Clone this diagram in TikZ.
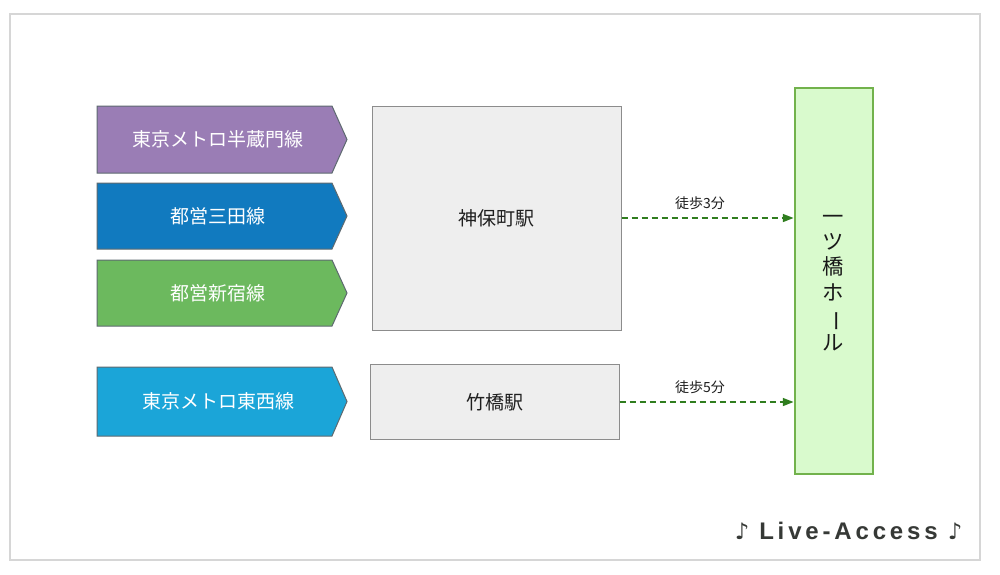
\documentclass[tikz,border=0pt]{standalone}
\usepackage{fontspec}
\setmainfont{Noto Sans CJK JP}
\newfontfamily\livefont[LetterSpace=16]{Liberation Sans}
\newfontfamily\notefont{DejaVu Sans}
\usetikzlibrary{arrows.meta}
\definecolor{framegrey}{HTML}{D6D6D6}
\definecolor{hanzomoncol}{HTML}{9A7DB5}
\definecolor{mitacol}{HTML}{117ABF}
\definecolor{shinjukucol}{HTML}{6CB95E}
\definecolor{tozaicol}{HTML}{1BA5D8}
\definecolor{lineborder}{HTML}{5E6A70}
\definecolor{stationfill}{HTML}{EEEEEE}
\definecolor{stationborder}{HTML}{8C8C8C}
\definecolor{hallfill}{HTML}{D9FACD}
\definecolor{hallborder}{HTML}{72B24C}
\definecolor{walkcol}{HTML}{2F7D1E}
\definecolor{livetext}{HTML}{363936}
\begin{document}
\begin{tikzpicture}[x=0.75pt,y=-0.75pt,
  linebody/.style={draw=lineborder, line width=0.75pt},
  linetext/.style={text=white, font=\fontsize{14.25}{17}\selectfont, inner sep=0pt},
  stationbox/.style={draw=stationborder, fill=stationfill, line width=0.75pt,
    minimum width=186.75pt, inner sep=0pt, font=\fontsize{14.25}{17}\selectfont, text=black!88},
  hallbox/.style={draw=hallborder, fill=hallfill, line width=1.5pt,
    minimum width=58.5pt, minimum height=289.5pt, inner sep=0pt,
    font=\fontsize{16}{19}\selectfont, align=center, text=black!90},
  walk/.style={draw=walkcol, line width=1.1pt, dash pattern=on 4.5pt off 3pt,
    -{Triangle[length=8pt,width=6pt]}},
  walklabel/.style={font=\fontsize{10.5}{12}\selectfont, inner sep=0pt, text=black!88},
  livestyle/.style={font=\livefont\bfseries\fontsize{18}{20}\selectfont, inner sep=0pt, anchor=base},
  notestyle/.style={font=\notefont\bfseries\fontsize{17}{20}\selectfont, inner sep=0pt, anchor=base}
]
\useasboundingbox (0,0) rectangle (1000,575);
\fill[white] (0,0) rectangle (1000,575);
\draw[framegrey, line width=1.5pt] (10,14) rectangle (980,560);

% line arrows
\fill[hanzomoncol, linebody] (97,106) -- (332,106) -- (347,139.5) -- (332,173) -- (97,173) -- cycle;
\node[linetext] (hanzomon) at (218,139.5) {東京メトロ半蔵門線};
\fill[mitacol, linebody] (97,183) -- (332,183) -- (347,216) -- (332,249) -- (97,249) -- cycle;
\node[linetext] (mita) at (218,216) {都営三田線};
\fill[shinjukucol, linebody] (97,260) -- (332,260) -- (347,293) -- (332,326) -- (97,326) -- cycle;
\node[linetext] (shinjuku) at (218,293) {都営新宿線};
\fill[tozaicol, linebody] (97,367) -- (332,367) -- (347,401.5) -- (332,436) -- (97,436) -- cycle;
\node[linetext] (tozai) at (218,401.5) {東京メトロ東西線};

% stations
\node[stationbox, minimum height=168pt] (jimbocho) at (496.5,218) {神保町駅};
\node[stationbox, minimum height=56.25pt] (takebashi) at (494.5,402) {竹橋駅};

% hall
\node[hallbox] (hall) at (833.5,281) {};
\node[font=\fontsize{16}{19}\selectfont, align=center, text=black!90, inner sep=0pt]
  (hallname) at (833.5,283) {一\\ツ\\橋\\ホ\\\rotatebox[origin=c]{-90}{ー}\\ル};

% walking connectors
\draw[walk] (jimbocho.east) -- (jimbocho.east -| hall.west);
\draw[walk] (takebashi.east) -- (takebashi.east -| hall.west);
\node[walklabel] (walk3) at (700,203) {徒歩3分};
\node[walklabel] (walk5) at (700,387) {徒歩5分};

% Live-Access logo
\node[livestyle, text=livetext] (livetext) at (848.5,539) {Live-Access};
\node[notestyle, text=livetext] (noteleft) at (742,539) {♪};
\node[notestyle, text=livetext] (noteright) at (955,539) {♪};
\end{tikzpicture}
\end{document}
